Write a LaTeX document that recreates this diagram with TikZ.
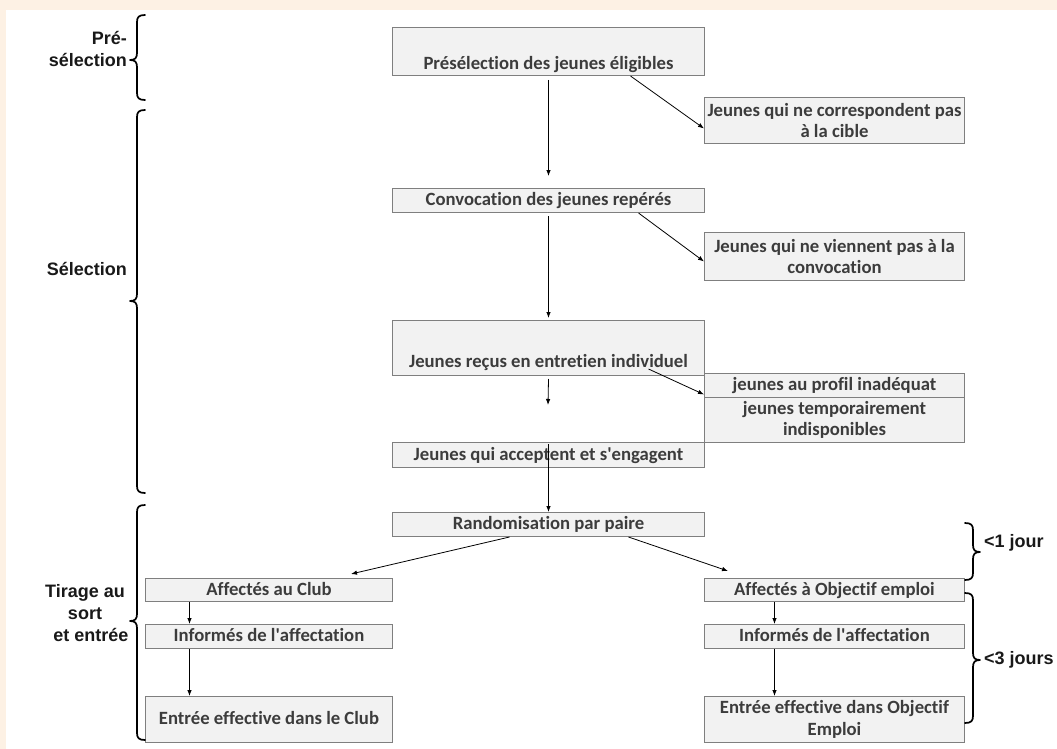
\documentclass[tikz,border=0pt]{standalone}
\usepackage{fontspec}
\setmainfont{Carlito}[Ligatures=NoCommon]
\newfontfamily\lblfont{Liberation Sans}
\usetikzlibrary{arrows.meta}
\definecolor{bgbeige}{RGB}{253,241,228}
\definecolor{boxfill}{RGB}{242,242,242}
\definecolor{boxline}{RGB}{127,127,127}
\definecolor{boxtext}{RGB}{60,60,60}
\newcommand\leftbrace[3]{% top, tip, bottom
  \draw[brc] (145,#1) .. controls (139,#1) and (137,#1+2) .. (137,#1+7) -- (137,#2-7)
     .. controls (137,#2-2) and (135,#2) .. (130,#2) .. controls (135,#2) and (137,#2+2) .. (137,#2+7)
     -- (137,#3-7) .. controls (137,#3-2) and (139,#3) .. (145,#3);}
\newcommand\rightbrace[3]{% top, tip, bottom
  \draw[brc] (965,#1) .. controls (971,#1) and (973,#1+2) .. (973,#1+7) -- (973,#2-7)
     .. controls (973,#2-2) and (975,#2) .. (980,#2) .. controls (975,#2) and (973,#2+2) .. (973,#2+7)
     -- (973,#3-7) .. controls (973,#3-2) and (971,#3) .. (965,#3);}
\begin{document}
\begin{tikzpicture}[x=1pt,y=-1pt,
  box/.style={draw=boxline, line width=1pt, fill=boxfill, text=boxtext,
    font=\bfseries\fontsize{18.7}{21.5}\selectfont, inner sep=0pt, align=center, anchor=north west},
  mainw/.style={minimum width=312pt},
  sidew/.style={minimum width=260pt},
  leftw/.style={minimum width=247pt},
  oneline/.style={text height=13pt, text depth=3pt},
  arr/.style={draw=black, line width=0.8pt, -{Latex[length=6pt,width=4.5pt]}},
  lbl/.style={font=\lblfont\bfseries\fontsize{18}{22}\selectfont, text=black!90, inner sep=0pt},
  brc/.style={line width=1.7pt, line cap=round, line join=round}]
\useasboundingbox (0,0) rectangle (1057,749);
\fill[bgbeige] (0,0) rectangle (1057,749);
\fill[white] (6,10) rectangle (1057,749);

% main column
\node[box,mainw,minimum height=48pt,text height=40pt,text depth=4pt] (B1) at (392,27) {Présélection des jeunes éligibles};
\node[box,sidew,minimum height=46pt] (B2) at (704,97) {Jeunes qui ne correspondent pas\\à la cible};
\node[box,mainw,minimum height=24pt,oneline] (B3) at (392,188) {Convocation des jeunes repérés};
\node[box,sidew,minimum height=48pt] (B4) at (704,232) {Jeunes qui ne viennent pas à la\\convocation};
\node[box,mainw,minimum height=55pt,text height=42pt,text depth=3pt] (B5) at (392,320) {Jeunes reçus en entretien individuel};
\node[box,sidew,minimum height=24pt,oneline] (B6) at (704,373) {jeunes au profil inadéquat};
\node[box,sidew,minimum height=45pt] (B7) at (704,397) {jeunes temporairement\\indisponibles};
\node[box,mainw,minimum height=25pt,oneline] (B8) at (392,442) {Jeunes qui acceptent et s\textquotesingle engagent};
\node[box,mainw,minimum height=24pt,oneline] (B9) at (392,512) {Randomisation par paire};
% left branch
\node[box,leftw,minimum height=23pt,oneline] (B10) at (145,578) {Affectés au Club};
\node[box,leftw,minimum height=24pt,oneline] (B11) at (145,624) {Informés de l\textquotesingle affectation};
\node[box,leftw,minimum height=46pt,oneline] (B12) at (145,696) {Entrée effective dans le Club};
% right branch
\node[box,sidew,minimum height=23pt,oneline] (B13) at (704,578) {Affectés à Objectif emploi};
\node[box,sidew,minimum height=24pt,oneline] (B14) at (704,624) {Informés de l\textquotesingle affectation};
\node[box,sidew,minimum height=46pt] (B15) at (704,696) {Entrée effective dans Objectif\\Emploi};

% connectors
\coordinate (E5) at (548,405);
\draw[arr] ([yshift=-4pt]B1.south) -- ([yshift=12pt]B3.north);
\draw[arr] ([xshift=82pt]B1.south) -- ([yshift=-8pt]B2.west);
\draw[arr] ([yshift=-3pt]B3.south) -- ([yshift=2pt]B5.north);
\draw[arr] ([xshift=90pt]B3.south) -- ([yshift=-5pt]B4.west);
\draw[arr] ([yshift=-3pt]B5.south) -- (E5);
\draw[arr] ([xshift=100pt,yshift=7pt]B5.south) -- ([yshift=-9pt]B6.west);
\draw[arr] ([yshift=-2pt]B8.north) -- (B9.north);
\draw[arr] ([xshift=-39pt]B9.south) -- ([xshift=-42pt,yshift=4pt]B10.north east);
\draw[arr] ([xshift=80pt]B9.south) -- ([xshift=24pt,yshift=7pt]B13.north west);
\draw[arr] ([xshift=-79.5pt]B10.south) -- ([xshift=-79.5pt]B11.north);
\draw[arr] ([xshift=-79.5pt]B11.south) -- ([xshift=-79.5pt]B12.north);
\draw[arr] ([xshift=-60pt]B13.south) -- ([xshift=-60pt]B14.north);
\draw[arr] ([xshift=-60pt]B14.south) -- ([xshift=-60pt]B15.north);

% braces
\leftbrace{15}{60}{100}
\leftbrace{110}{301}{493}
\leftbrace{505}{621}{740}
\rightbrace{523}{552}{580}
\rightbrace{593}{660}{723}

% labels
\node[lbl,align=right,anchor=east] (Lpre) at (127,49) {Pré-\\sélection};
\node[lbl,anchor=east] (Lsel) at (127,269) {Sélection};
\node[lbl,align=center] (Ltir) at (85,613) {Tirage au\\sort\\\hspace*{12pt}et entrée};
\node[lbl,anchor=west] (Ljour) at (984,543) {<1 jour};
\node[lbl,anchor=west] (Ljours) at (984,660) {<3 jours};
\end{tikzpicture}
\end{document}
